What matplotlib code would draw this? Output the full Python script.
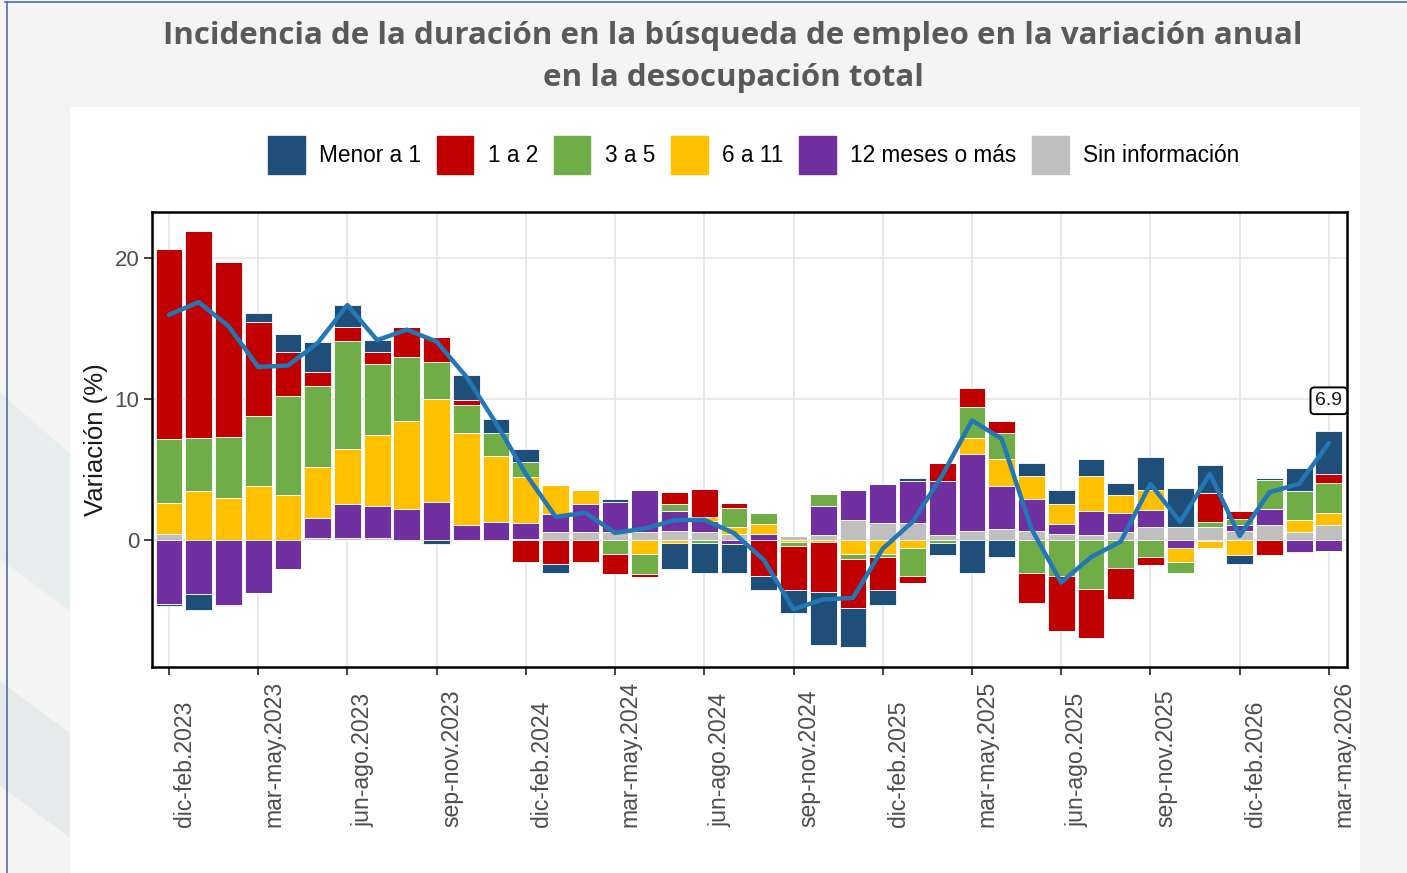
import matplotlib
matplotlib.use("Agg")
import matplotlib.pyplot as plt
import matplotlib.patches as mpatches
from matplotlib.lines import Line2D
import numpy as np

# Rolling quarters, dic-feb.2023 ... mar-may.2026 (40 periods)
periods = [
    "dic-feb.2023", "ene-mar.2023", "feb-abr.2023", "mar-may.2023", "abr-jun.2023",
    "may-jul.2023", "jun-ago.2023", "jul-sep.2023", "ago-oct.2023", "sep-nov.2023",
    "oct-dic.2023", "nov-ene.2024", "dic-feb.2024", "ene-mar.2024", "feb-abr.2024",
    "mar-may.2024", "abr-jun.2024", "may-jul.2024", "jun-ago.2024", "jul-sep.2024",
    "ago-oct.2024", "sep-nov.2024", "oct-dic.2024", "nov-ene.2025", "dic-feb.2025",
    "ene-mar.2025", "feb-abr.2025", "mar-may.2025", "abr-jun.2025", "may-jul.2025",
    "jun-ago.2025", "jul-sep.2025", "ago-oct.2025", "sep-nov.2025", "oct-dic.2025",
    "nov-ene.2026", "dic-feb.2026", "ene-mar.2026", "feb-abr.2026", "mar-may.2026",
]

menor_a_1 = [-0.19, -1.09, -0.05, 0.62, 1.25, 2.14, 1.61, 0.83, -0.07, -0.28,
             1.78, 1.00, 0.87, -0.64, -0.10, 0.26, 0.00, -1.87, -2.11, -2.00,
             -1.00, -1.61, -3.75, -2.73, -1.02, 0.21, -0.83, -2.30, -1.19, 0.88,
             1.00, 1.16, 0.88, 2.33, 2.78, 2.02, -0.64, 0.17, 1.61, 3.01]
uno_a_2 = [13.43, 14.66, 12.43, 6.64, 3.13, 1.00, 1.00, 0.90, 2.14, 1.78,
           0.35, -0.07, -1.54, -1.66, -1.54, -1.47, -0.19, 0.88, 1.97, 0.30,
           -2.56, -3.13, -3.60, -3.51, -2.37, -0.47, 1.23, 1.40, 0.90, -2.14,
           -3.89, -3.49, -2.25, -0.59, 0.00, 2.02, 0.52, -1.02, -0.07, 0.62]
tres_a_5 = [4.60, 3.77, 4.36, 5.01, 7.03, 5.76, 7.66, 5.03, 4.51, 2.63,
            1.97, 1.61, 1.12, 0.00, 0.00, -0.95, -1.47, 0.50, -0.19, 1.37,
            0.76, -0.28, 0.88, -0.36, -0.24, -2.02, -0.19, 2.20, 1.85, -2.30,
            -2.56, -3.44, -1.95, -1.19, -0.76, 0.36, 0.47, 2.06, 2.06, 2.14]
seis_a_11 = [2.18, 3.44, 2.97, 3.84, 3.20, 3.65, 3.87, 5.00, 6.29, 7.31,
             6.57, 4.68, 3.27, 2.06, 0.95, 0.00, -0.95, -0.19, 0.30, 0.50,
             0.72, -0.15, -0.10, -0.95, -0.95, -0.55, 0.00, 1.14, 1.90, 1.61,
             1.38, 2.51, 1.26, 1.42, -1.00, -0.47, -1.02, 0.00, 0.83, 0.88]
doce_o_mas = [-4.51, -3.84, -4.63, -3.75, -2.06, 1.40, 2.44, 2.30, 2.20, 2.68,
              1.07, 1.30, 1.07, 1.25, 2.00, 2.09, 3.00, 1.40, 0.83, -0.30,
              0.40, 0.00, 2.02, 2.09, 2.78, 3.04, 3.87, 5.43, 3.06, 2.30,
              0.71, 1.71, 1.35, 1.23, -0.55, -0.07, 0.40, 1.14, -0.83, -0.78]
sin_info = [0.43, 0.05, 0.00, 0.00, 0.00, 0.15, 0.15, 0.15, 0.00, 0.00,
            0.00, 0.00, 0.12, 0.60, 0.60, 0.60, 0.60, 0.66, 0.55, 0.45,
            0.05, 0.30, 0.40, 1.47, 1.19, 1.19, 0.36, 0.66, 0.78, 0.66,
            0.47, 0.36, 0.60, 0.95, 0.95, 0.95, 0.66, 1.07, 0.60, 1.07]

# Annual variation of total unemployment (line)
total = [16.0, 16.9, 15.2, 12.3, 12.4, 14.0, 16.7, 14.2, 14.95, 14.1,
         11.6, 8.3, 4.7, 1.66, 1.95, 0.52, 0.83, 1.42, 1.45, 0.5,
         -1.4, -4.9, -4.2, -4.1, -0.6, 1.3, 4.6, 8.5, 7.2, 0.8,
         -3.0, -1.2, -0.1, 4.0, 1.3, 4.7, 0.3, 3.4, 4.0, 6.9]

series = [
    ("Menor a 1", menor_a_1, "#1F4E79"),
    ("1 a 2", uno_a_2, "#C00000"),
    ("3 a 5", tres_a_5, "#70AD47"),
    ("6 a 11", seis_a_11, "#FFC000"),
    ("12 meses o más", doce_o_mas, "#7030A0"),
    ("Sin información", sin_info, "#BFBFBF"),
]

SANS = ["Liberation Sans", "DejaVu Sans"]

fig = plt.figure(figsize=(14.07, 8.73), dpi=100, facecolor="#f4f4f4")

# decorative background shapes on the left strip
fig.patches.append(mpatches.Polygon([(0, 0.55), (0.05, 0.48), (0.05, 0.30), (0, 0.36)],
                                    closed=True, transform=fig.transFigure,
                                    facecolor="#e8eded", edgecolor="none", zorder=-3))
fig.patches.append(mpatches.Polygon([(0, 0.22), (0.05, 0.16), (0.05, 0.04), (0, 0.10)],
                                    closed=True, transform=fig.transFigure,
                                    facecolor="#e6eaeb", edgecolor="none", zorder=-3))
# white panel behind the chart
fig.patches.append(mpatches.Rectangle((70 / 1407, 0), 1290 / 1407, 766 / 873,
                                      transform=fig.transFigure, facecolor="white",
                                      edgecolor="none", zorder=-2))
# slide frame lines
fig.lines.append(Line2D([7 / 1407, 7 / 1407], [0, 1 - 2 / 873], transform=fig.transFigure,
                        color="#4a6fa5", lw=1.2, zorder=-1))
fig.lines.append(Line2D([5 / 1407, 1], [1 - 2 / 873, 1 - 2 / 873], transform=fig.transFigure,
                        color="#4a6fa5", lw=1.2, zorder=-1))

fig.text(0.521, 1 - 57 / 873,
         "Incidencia de la duración en la búsqueda de empleo en la variación anual\nen la desocupación total",
         ha="center", va="center", fontsize=22.5, fontweight="bold", color="#595959",
         family="Open Sans", linespacing=1.48)

ax = fig.add_axes([152 / 1407, 1 - 667 / 873, 1195 / 1407, 455 / 873])
ax.set_facecolor("white")

x = np.arange(len(periods))
pos_bottom = np.zeros(len(x))
neg_bottom = np.zeros(len(x))
# stacking order from zero outward: Sin información first, Menor a 1 last
for name, vals, col in reversed(series):
    v = np.array(vals)
    pos = np.where(v > 0, v, 0)
    neg = np.where(v < 0, v, 0)
    ax.bar(x, pos, bottom=pos_bottom, width=0.9, color=col, edgecolor="white", linewidth=0.6, zorder=2)
    ax.bar(x, neg, bottom=neg_bottom, width=0.9, color=col, edgecolor="white", linewidth=0.6, zorder=2)
    pos_bottom += pos
    neg_bottom += neg

ax.plot(x, total, color="#2377b4", lw=3.2, zorder=3, solid_capstyle="round")

ax.annotate(f"{total[-1]:.1f}", (x[-1], 9.9), ha="center", va="center", fontsize=14,
            color="#1a1a1a", zorder=4, family=SANS,
            bbox=dict(boxstyle="round,pad=0.25,rounding_size=0.2", fc="white", ec="black", lw=1.4))

ax.set_xlim(-0.57, 39.61)
ax.set_ylim(-9.0, 23.3)
ax.set_yticks([0, 10, 20])
ax.set_yticklabels(["0", "10", "20"], fontsize=16, color="#4d4d4d", family=SANS)
tick_idx = list(range(0, 40, 3))
ax.set_xticks(tick_idx)
ax.set_xticklabels([])
for i in tick_idx:
    ax.text(i + 0.13, -0.352, periods[i], transform=ax.get_xaxis_transform(), rotation=90,
            rotation_mode="anchor", ha="left", va="top", fontsize=16.6, color="#4d4d4d",
            family=SANS)

ax.grid(True, color="#e5e5e5", lw=1.2, zorder=0)
ax.set_axisbelow(True)
for s in ax.spines.values():
    s.set_color("black")
    s.set_linewidth(1.8)
ax.tick_params(axis="both", length=5.5, width=1.3, color="#333333")
ax.set_ylabel("Variación (%)", fontsize=18.5, color="#1a1a1a", labelpad=5, family=SANS)

handles = [mpatches.Patch(color=col, label=name) for name, vals, col in series]
fig.legend(handles=handles, loc="center", bbox_to_anchor=(754 / 1407, 1 - 155 / 873), ncol=6,
           frameon=False, prop={"family": SANS, "size": 16.3}, handlelength=1.6, handleheight=2.2,
           handletextpad=0.65, columnspacing=0.7)

fig.savefig("out.png", dpi=100, facecolor=fig.get_facecolor())
